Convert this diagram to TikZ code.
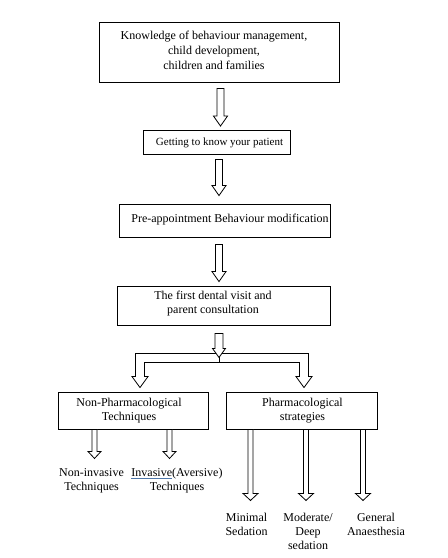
\documentclass[tikz,border=0pt]{standalone}
\usepackage{fontspec}
\setmainfont{Liberation Serif}
\usetikzlibrary{calc}
\definecolor{spellblue}{RGB}{80,120,170}
\tikzset{
  box/.style={draw=black, line width=0.9pt, inner sep=0pt, fill=white},
  txt/.style={font=\fontsize{12}{14}\selectfont, align=center, inner sep=0pt},
  blk/.style={draw=black, line width=0.8pt, fill=white, line join=miter}
}
% block arrow: #1 top coordinate, #2 tip coordinate, #3 half shaft, #4 half head, #5 head length
\newcommand{\barrow}[5]{%
  \draw[blk] ($(#1)+(-#3,0)$) -- ($(#2)+(-#3,-#5)$) -- ($(#2)+(-#4,-#5)$) -- (#2)
     -- ($(#2)+(#4,-#5)$) -- ($(#2)+(#3,-#5)$) -- ($(#1)+(#3,0)$) -- cycle;}
\begin{document}
\begin{tikzpicture}[x=1pt, y=-1pt]
\useasboundingbox[fill=white] (0,0) rectangle (448,558);

% boxes
\node[box, minimum width=240pt, minimum height=60pt] (b1) at (219,52) {};
\node[box, minimum width=147pt, minimum height=24pt] (b2) at (216.5,142.5) {};
\node[box, minimum width=211pt, minimum height=33pt] (b3) at (224.5,220.5) {};
\node[box, minimum width=213pt, minimum height=39pt] (b4) at (223.5,305.5) {};
\node[box, minimum width=150pt, minimum height=37pt] (b5) at (133,410.5) {};
\node[box, minimum width=151pt, minimum height=37pt] (b6) at (301.5,410.5) {};

% box texts
\node[txt, font=\fontsize{12}{15}\selectfont] (t1) at (214,50) {Knowledge of behaviour management,\\child development,\\children and families};
\node[txt, font=\fontsize{11}{13}\selectfont] (t2) at (219.5,142.5) {Getting to know your patient};
\node[txt] (t3) at (230,219.5) {Pre-appointment Behaviour modification};
\node[txt] (t4) at (213,303.5) {The first dental visit and\\parent consultation};
\node[txt] (t5) at (129,411) {Non-Pharmacological\\Techniques};
\node[txt] (t6) at (302.5,411) {Pharmacological\\strategies};

% leaf labels
\node[txt] (l1) at (91.5,480.5) {Non-invasive\\Techniques};
\node[txt] (l2) at (177,480.5) {\rlap{\color{spellblue}\underline{\phantom{Invasive}}}Invasive(Aversive)\\Techniques};
\node[txt] (l3) at (246.5,524.5) {Minimal\\Sedation};
\node[txt] (l4) at (308,531.5) {Moderate/\\Deep\\sedation};
\node[txt] (l5) at (376,524.5) {General\\Anaesthesia};

% connector end points
\coordinate (a1t) at ($(b1.south)+(1.5,6)$);
\coordinate (a1h) at ($(b2.north)+(4,-4)$);
\coordinate (a2t) at ($(b2.south)+(2.5,4.5)$);
\coordinate (a2h) at ($(b3.north)+(-5.5,-8)$);
\coordinate (a3t) at ($(b3.south)+(-5.5,7)$);
\coordinate (a3h) at ($(b4.north)+(-4.5,-4)$);
\coordinate (a4t) at ($(b4.south)+(-4.5,8)$);
\coordinate (a4h) at ($(b4.south)+(-4.5,32)$);

% vertical block arrows
\barrow{a1t}{a1h}{3.5}{7}{10}
\barrow{a2t}{a2h}{3.5}{7}{10}
\barrow{a3t}{a3h}{3.5}{7}{10}

% fork
\coordinate (fl) at ($(b5.north)+(7,-4)$);
\coordinate (fr) at ($(b6.north)+(2.5,-4)$);
\draw[blk] ($(fl)+(-8,-11)$) -- (fl) -- ($(fl)+(8,-11)$) -- ($(fl)+(4.5,-11)$)
  |- ($(fr)+(-4.5,-25)$) -- ($(fr)+(-4.5,-11)$) -- ($(fr)+(-8,-11)$) -- (fr)
  -- ($(fr)+(8,-11)$) -- ($(fr)+(4.5,-11)$) |- ($(fl)+(-4.5,-34)$) -- ($(fl)+(-4.5,-11)$) -- cycle;
\barrow{a4t}{a4h}{4}{6.5}{9}
\draw[line width=0.8pt] (a4h) -- ($(a4h)+(0,6)$);

% bottom arrows
\coordinate (c1t) at ($(b5.south)+(-38.5,0)$);
\coordinate (c1h) at ($(b5.south)+(-38.5,29)$);
\coordinate (c2t) at ($(b5.south)+(36.5,0)$);
\coordinate (c2h) at ($(b5.south)+(36.5,29)$);
\barrow{c1t}{c1h}{2.5}{6.5}{7}
\barrow{c2t}{c2h}{2.5}{6.5}{7}
\coordinate (d1t) at ($(b6.south)+(-51,0)$);
\coordinate (d1h) at ($(b6.south)+(-51,71)$);
\coordinate (d2t) at ($(b6.south)+(4.5,0)$);
\coordinate (d2h) at ($(b6.south)+(4.5,71)$);
\coordinate (d3t) at ($(b6.south)+(61.5,0)$);
\coordinate (d3h) at ($(b6.south)+(61.5,71)$);
\barrow{d1t}{d1h}{2.5}{7.5}{7}
\barrow{d2t}{d2h}{2.5}{7.5}{7}
\barrow{d3t}{d3h}{2.5}{7.5}{7}
\end{tikzpicture}
\end{document}
